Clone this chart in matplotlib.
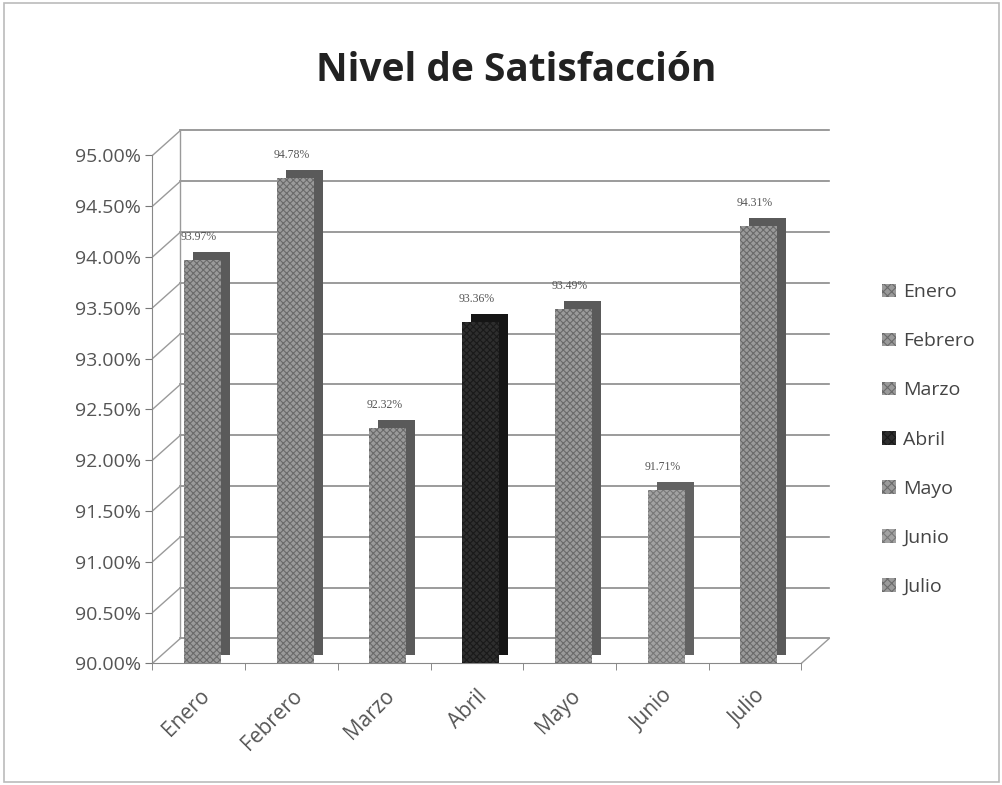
import numpy as np
import matplotlib.pyplot as plt
from matplotlib.transforms import offset_copy
from matplotlib.patches import Rectangle

plt.rcParams['font.family'] = ['Open Sans', 'DejaVu Sans']
plt.rcParams['hatch.linewidth'] = 0.8

# data
meses = ['Enero', 'Febrero', 'Marzo', 'Abril', 'Mayo', 'Junio', 'Julio']
valores = [93.97, 94.78, 92.32, 93.36, 93.49, 91.71, 94.31]
caras = ['#9a9a9a', '#9a9a9a', '#9a9a9a', '#2e2e2e', '#9a9a9a', '#a2a2a2', '#9a9a9a']
tramas = ['#6a6a6a', '#6a6a6a', '#6a6a6a', '#1a1a1a', '#6a6a6a', '#787878', '#6a6a6a']
lados = ['#5a5a5a', '#5a5a5a', '#5a5a5a', '#151515', '#5a5a5a', '#626262', '#5a5a5a']
yticks = np.arange(90, 95.01, 0.5)

fig = plt.figure(figsize=(10.03, 7.85), dpi=100)
ax = fig.add_axes([0.152, 0.155, 0.647, 0.647])
x = np.arange(len(meses))
base = 90

# back wall gridlines (pseudo 3d)
back = offset_copy(ax.get_yaxis_transform(), fig=fig, x=28, y=25, units='dots')
for v in yticks:
    ax.plot([0, 1], [v, v], color='#8a8a8a', lw=1.2, transform=back,
            clip_on=False, zorder=0)
    ax.annotate('', xy=(0, v), xycoords=back, xytext=(0, v),
                textcoords=ax.get_yaxis_transform(),
                arrowprops=dict(arrowstyle='-', color='#9a9a9a', lw=1,
                                shrinkA=0, shrinkB=0), zorder=0)
# back wall left edge and floor lines
ax.plot([0, 0], [90, 95], color='#9a9a9a', lw=1, transform=back, clip_on=False, zorder=0)
ax.annotate('', xy=(1, 90), xycoords=back, xytext=(1, 90),
            textcoords=ax.get_yaxis_transform(),
            arrowprops=dict(arrowstyle='-', color='#9a9a9a', lw=1,
                            shrinkA=0, shrinkB=0), zorder=0)

# bars: side/top face as offset copy, then front face
lado = offset_copy(ax.transData, fig=fig, x=9, y=8, units='dots')
ax.bar(x + 0.04, np.array(valores) - base, bottom=base, width=0.4, color=lados,
       transform=lado, zorder=2, linewidth=0)
ax.bar(x + 0.04, np.array(valores) - base, bottom=base, width=0.4, color=caras,
       edgecolor=tramas, hatch='xxxxx', linewidth=0, zorder=3)

# data labels
for xi, v in zip(x, valores):
    ax.annotate(f'{v:.2f}%', xy=(xi, v), xytext=(0, 12), textcoords='offset points',
                ha='center', va='bottom', fontsize=8.5, color='#555555',
                family=['Liberation Serif', 'DejaVu Serif'])

ax.set_xlim(-0.5, len(meses) - 0.5)
ax.set_ylim(90, 95)
ax.set_yticks(yticks)
ax.set_yticklabels([f'{v:.2f}%' for v in yticks], fontsize=14, color='#555555')
ax.set_xticks(x)
ax.set_xticklabels(meses, rotation=45, ha='right', rotation_mode='anchor',
                   fontsize=15, color='#555555')
ax.set_xticks(np.arange(-0.5, len(meses), 1), minor=True)
ax.tick_params(axis='x', which='major', length=0, pad=16)
ax.tick_params(axis='x', which='minor', length=5, color='#777777', direction='out')
ax.tick_params(axis='y', length=5, color='#777777', pad=3)
for s in ['top', 'right']:
    ax.spines[s].set_visible(False)
ax.spines['left'].set_color('#888888')
ax.spines['bottom'].set_color('#888888')
ax.patch.set_alpha(0)

fig.text(0.515, 0.91, 'Nivel de Satisfacción', fontsize=28, fontweight='bold',
         color='#222222', ha='center', va='center')

# legend
handles = [Rectangle((0, 0), 1, 1, facecolor=c, edgecolor=t, hatch='xxxx', linewidth=0)
           for c, t in zip(caras, tramas)]
leg = fig.legend(handles, meses, loc='center left', bbox_to_anchor=(0.862, 0.44),
                 frameon=False, fontsize=14, labelspacing=1.6, handlelength=0.7,
                 handleheight=0.7, handletextpad=0.4)
for t in leg.get_texts():
    t.set_color('#444444')

# chart border
fig.add_artist(Rectangle((0.004, 0.004), 0.992, 0.992, transform=fig.transFigure,
                         fill=False, edgecolor='#bbbbbb', lw=1.2))

fig.savefig('out.png', dpi=100)
